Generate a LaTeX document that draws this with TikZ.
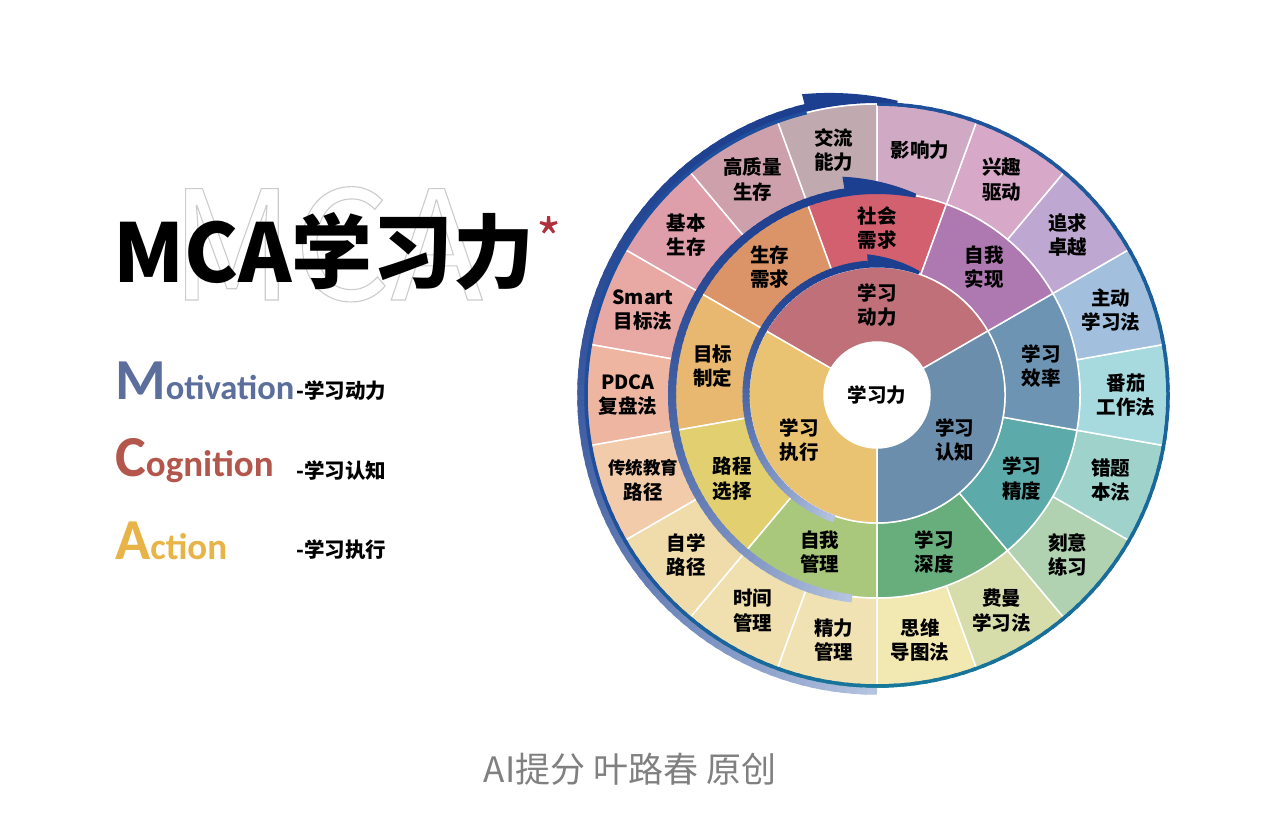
\documentclass[tikz,border=0pt]{standalone}
\usepackage{fontspec}
\newfontfamily\cjk{Noto Sans CJK SC}
\newfontfamily\lat{Carlito}
\definecolor{bandlight}{HTML}{B4C3DF}
\definecolor{bandnavy}{HTML}{1D3F8F}
\definecolor{bteal}{HTML}{16799A}
\definecolor{bblue}{HTML}{1F4E9C}
\definecolor{mot}{HTML}{5B6E9C}
\definecolor{cog}{HTML}{B3564B}
\definecolor{act}{HTML}{E8B447}
\definecolor{star}{HTML}{B0303C}
% inner
\definecolor{i1}{HTML}{C07078}
\definecolor{i2}{HTML}{E9C272}
\definecolor{i3}{HTML}{6A8EAC}
% middle
\definecolor{m1}{HTML}{D2606E}
\definecolor{m2}{HTML}{DA9468}
\definecolor{m3}{HTML}{E8B870}
\definecolor{m4}{HTML}{E2D070}
\definecolor{m5}{HTML}{AAC87C}
\definecolor{m6}{HTML}{68AE7C}
\definecolor{m7}{HTML}{5CAAAA}
\definecolor{m8}{HTML}{6E94B4}
\definecolor{m9}{HTML}{AE78B0}
% outer
\definecolor{o1}{HTML}{C0AAB0}
\definecolor{o2}{HTML}{CEA0AC}
\definecolor{o3}{HTML}{DE9EAA}
\definecolor{o4}{HTML}{E8A8A4}
\definecolor{o5}{HTML}{EEB6A0}
\definecolor{o6}{HTML}{F2CCAA}
\definecolor{o7}{HTML}{F0DCAA}
\definecolor{o8}{HTML}{F0E0B0}
\definecolor{o9}{HTML}{F0E2B2}
\definecolor{o10}{HTML}{F2E8B2}
\definecolor{o11}{HTML}{D6DCAA}
\definecolor{o12}{HTML}{B0D2B0}
\definecolor{o13}{HTML}{A0D2CC}
\definecolor{o14}{HTML}{A6DADE}
\definecolor{o15}{HTML}{A2C0DE}
\definecolor{o16}{HTML}{BEA8D2}
\definecolor{o17}{HTML}{D8A8C8}
\definecolor{o18}{HTML}{D0AAC4}
\newcommand\mysector[5]{%
  \fill[#5, draw=white, line width=1.5pt] (#3:#1) arc[start angle=#3, end angle=#4, radius=#1 pt] -- (#4:#2) arc[start angle=#4, end angle=#3, radius=#2 pt] -- cycle;}
\tikzset{
  lbl/.style={font=\cjk\bfseries\fontsize{19.5}{24.5}\selectfont, align=center, text=black, inner sep=0pt},
  sidelbl/.style={font=\cjk\bfseries\fontsize{20.5}{22}\selectfont, text=black, inner sep=0pt, anchor=west},
  bigword/.style={inner sep=0pt, anchor=base west}
}
\begin{document}
\begin{tikzpicture}[x=1pt,y=1pt]
\useasboundingbox (0,0) rectangle (1269,829);
\fill[white] (0,0) rectangle (1269,829);

% background outlined MCA
\node[bigword, text=black!20] (mcabg) at (170,529) {\fontsize{152}{152}\selectfont\cjk\special{pdf:literal direct 1 Tr 1.1 w}MCA\special{pdf:literal direct 0 Tr}};
% title
\node[bigword] (title) at (113,546) {\fontsize{81}{81}\selectfont\cjk\bfseries MCA学习力};
\node[anchor=north, inner sep=0pt, text=star] (ast) at (549,613) {\fontsize{54}{54}\selectfont\cjk *};

% MCA legend
\node[bigword, text=mot] (motiv) at (115,429) {\lat\bfseries\fontsize{58}{58}\selectfont M\fontsize{34.5}{34.5}\selectfont otivation};
\node[bigword, text=cog] (cogn) at (115,352) {\lat\bfseries\fontsize{58}{58}\selectfont C\fontsize{37}{37}\selectfont ognition};
\node[bigword, text=act] (actn) at (115,269) {\lat\bfseries\fontsize{58}{58}\selectfont A\fontsize{37}{37}\selectfont ction};
\node[sidelbl] (lm) at (296,438) {-学习动力};
\node[sidelbl] (lc) at (296,358) {-学习认知};
\node[sidelbl] (la) at (296,279) {-学习执行};

% footer
\node[inner sep=0pt, text=black!50] (footer) at (630,60) {\fontsize{35}{35}\selectfont\cjk AI提分 叶路春 原创};

\begin{scope}[shift={(877,434)}]
% outer ring
\foreach \a/\b/\c in {90/110/o1,110/130/o2,130/150/o3,150/170/o4,170/190/o5,190/210/o6,210/230/o7,230/250/o8,250/270/o9,270/290/o10,290/310/o11,310/330/o12,330/350/o13,350/370/o14,370/390/o15,390/410/o16,410/430/o17,430/450/o18}{
  \mysector{203}{291}{\a}{\b}{\c}
}
% middle ring
\foreach \a/\b/\c in {70/110/m1,110/150/m2,150/190/m3,190/230/m4,230/270/m5,270/310/m6,310/350/m7,350/390/m8,390/430/m9}{
  \mysector{128}{203}{\a}{\b}{\c}
}
% inner ring
\foreach \a/\b/\c in {30/150/i1,150/270/i2,270/390/i3}{
  \mysector{53}{128}{\a}{\b}{\c}
}
\fill[white] (0,0) circle[radius=53pt];

% outer band (gradient) and border
\foreach \a in {270,268,...,106}{
  \pgfmathsetmacro\p{100*((\a-104)/166)^2}
  \draw[line width=7.5pt, draw=bandlight!\p!bandnavy] (\a:296) arc[start angle=\a, end angle=\a-3, radius=296pt];
}
\foreach \a in {90,88,...,-88}{
  \pgfmathsetmacro\p{(90-\a)/1.8}
  \draw[line width=3.5pt, draw=bteal!\p!bblue] (\a:291) arc[start angle=\a, end angle=\a-3, radius=291pt];
}
\foreach \a in {200,202,...,270}{
  \pgfmathsetmacro\p{(\a-200)/0.7}
  \draw[line width=3.5pt, draw=bteal!\p!bblue] (\a:291) arc[start angle=\a, end angle=\a+3, radius=291pt];
}
\draw[line width=3.5pt, draw=bblue] (104:291) arc[start angle=104, end angle=201, radius=291pt];
\fill[bandnavy] plot[domain=104:86, samples=14] (\x:{310-(104-\x)/18*15}) -- plot[domain=86:104, samples=14] (\x:292) -- cycle;

% middle band
\foreach \a in {263,261,...,101}{
  \pgfmathsetmacro\p{100*((\a-99)/164)^2}
  \draw[line width=8pt, draw=bandlight!\p!bandnavy] (\a:205) arc[start angle=\a, end angle=\a-3, radius=205pt];
}
\fill[bandnavy] plot[domain=99:79, samples=14] (\x:{221-(99-\x)/20*16}) -- plot[domain=79:99, samples=14] (\x:201) -- cycle;

% inner band
\foreach \a in {251,249,...,96}{
  \pgfmathsetmacro\p{100*((\a-94)/157)^2}
  \draw[line width=7pt, draw=bandlight!\p!bandnavy] (\a:131) arc[start angle=\a, end angle=\a-3, radius=131pt];
}
\fill[bandnavy] plot[domain=94:71, samples=14] (\x:{141-(94-\x)/23*10}) -- plot[domain=71:94, samples=14] (\x:127.5) -- cycle;

% labels
\foreach \a/\t [count=\i] in {100/{交流\\能力},120/{高质量\\生存},140/{基本\\生存},160/{Smart\\目标法},180/{PDCA\\复盘法},200/{\fontsize{17.5}{23}\selectfont 传统教育\\路径},220/{自学\\路径},240/{时间\\管理},260/{精力\\管理},280/{思维\\导图法},300/{费曼\\学习法},320/{刻意\\练习},340/{错题\\本法},0/{番茄\\工作法},20/{主动\\学习法},40/{追求\\卓越},60/{兴趣\\驱动},80/{影响力}}{
  \node[lbl] (outer\i) at (\a:249) {\t};
}
\foreach \a/\t [count=\i] in {90/{社会\\需求},130/{生存\\需求},170/{目标\\制定},210/{路程\\选择},250/{自我\\管理},290/{学习\\深度},330/{学习\\精度},10/{学习\\效率},50/{自我\\实现}}{
  \node[lbl] (mid\i) at (\a:167) {\t};
}
\node[lbl] (motive) at (90:90) {学习\\动力};
\node[lbl] (action) at (210:90) {学习\\执行};
\node[lbl] (cognit) at (330:90) {学习\\认知};
\node[lbl] (core) at (0,0) {学习力};
\end{scope}
\end{tikzpicture}
\end{document}
